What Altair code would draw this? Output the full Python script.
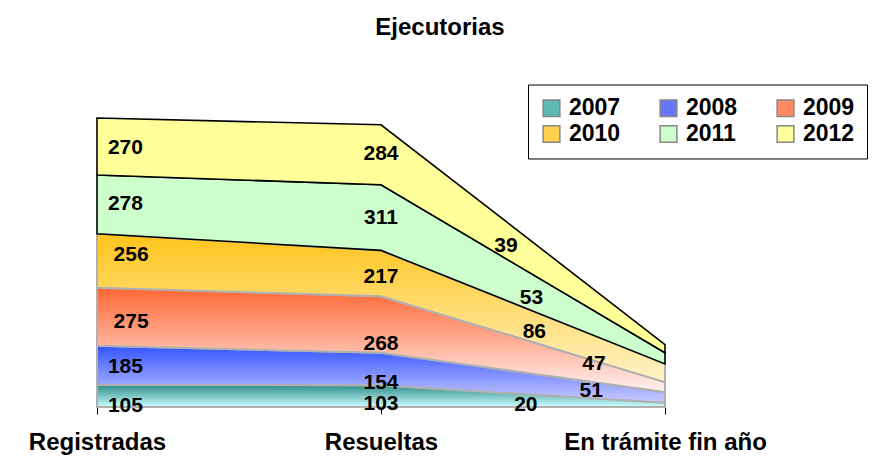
import altair as alt
import pandas as pd

categories = ["Registradas", "Resueltas", "En trámite fin año"]
years = ["2007", "2008", "2009", "2010", "2011", "2012"]
v2007 = [105, 103, 20]
v2008 = [185, 154, 51]
v2009 = [275, 268, 47]
v2010 = [256, 217, 86]
v2011 = [278, 311, 53]
v2012 = [270, 284, 39]
series = [v2007, v2008, v2009, v2010, v2011, v2012]

# styles
grad_top = ["#2e8b88", "#3355ff", "#ff6633", "#ffc41a", "#ccffcc", "#ffff99"]
grad_bot = ["#ccffff", "#ccccff", "#fff2f2", "#fff3c8", "#ccffcc", "#ffff99"]
legend_cols = ["#5fb8b2", "#6677ff", "#ff8a66", "#ffd24d", "#ccffcc", "#ffff99"]
strokes = ["#b0b0b0", "#b0b0b0", "#b0b0b0", "#b0b0b0", "#000000", "#000000"]
# label x positions (in category units) for each series: [cat0, cat1, cat2]
label_pos = [
    [0.10, 1.0, 1.51],
    [0.10, 1.0, 1.74],
    [0.12, 1.0, 1.75],
    [0.12, 1.0, 1.54],
    [0.10, 1.0, 1.53],
    [0.10, 1.0, 1.44],
]
# label vertical nudges in pixels (positive = down)
label_dy = [
    [10, 8, 4],
    [1, 14, 1],
    [4, 20, -7],
    [-7, 4, 5],
    [-2, 0, 6],
    [1, -1, 6],
]

W, H = 568, 295.5
YMAX = 1400
px_per_unit = H / YMAX

# stacking
rows = []
base = [0, 0, 0]
stacks = []
for yr, vals in zip(years, series):
    lo = list(base)
    hi = [b + v for b, v in zip(base, vals)]
    stacks.append((lo, hi))
    for i in range(3):
        rows.append({"year": yr, "xi": i, "y0": lo[i], "y1": hi[i]})
    base = hi
df = pd.DataFrame(rows)


def interp(arr, x):
    i = min(int(x), 1)
    t = x - i
    return arr[i] + t * (arr[i + 1] - arr[i])


lab_rows = []
for s, (yr, vals) in enumerate(zip(years, series)):
    lo, hi = stacks[s]
    for i in range(3):
        x = label_pos[s][i]
        mid = (interp(lo, x) + interp(hi, x)) / 2 - label_dy[s][i] / px_per_unit
        lab_rows.append({"year": yr, "x": x, "y": mid, "text": str(vals[i])})
dl = pd.DataFrame(lab_rows)

label_expr = "['Registradas','Resueltas','En trámite fin año'][datum.value]"
xenc = alt.X(
    "xi:Q",
    scale=alt.Scale(domain=[0, 2], nice=False, zero=False),
    axis=alt.Axis(
        values=[0, 1, 2], labelExpr=label_expr, title=None, grid=False,
        domainColor="#000000", tickColor="#000000", tickSize=7,
        labelFontSize=24, labelFontWeight="bold", labelFont="Liberation Sans",
        labelColor="#000000", labelPadding=16, labelFlush=False, labelLimit=0,
    ),
)
yscale = alt.Scale(domain=[0, YMAX], nice=False)

layers = []
for s, yr in enumerate(years):
    grad = alt.Gradient(
        gradient="linear",
        stops=[alt.GradientStop(color=grad_top[s], offset=0),
               alt.GradientStop(color=grad_bot[s], offset=1)],
        x1=0, x2=0, y1=0, y2=1,
    )
    layers.append(
        alt.Chart(df[df.year == yr]).mark_area(
            fill=grad, stroke=strokes[s], strokeWidth=2 if s < 4 else 1.6
        ).encode(
            x=xenc,
            y=alt.Y("y1:Q", scale=yscale, axis=None),
            y2="y0:Q",
        )
    )

legend_layer = alt.Chart(df).mark_point(filled=True, opacity=0).encode(
    x=xenc,
    y=alt.Y("y1:Q", scale=yscale, axis=None),
    fill=alt.Fill(
        "year:N",
        scale=alt.Scale(domain=years, range=legend_cols),
        legend=alt.Legend(
            title=None, orient="none", legendX=431, legendY=-27,
            direction="horizontal", columns=3, symbolType="square",
            symbolSize=280, symbolOpacity=1, symbolStrokeColor="#888888",
            symbolStrokeWidth=1.5, labelFontSize=23, labelFontWeight="bold",
            labelFont="Liberation Sans", labelColor="#000000",
            fillColor="#ffffff", strokeColor="#000000", padding=12,
            columnPadding=36, rowPadding=2, symbolOffset=0, labelOffset=6,
        ),
    ),
)

labels = alt.Chart(dl).mark_text(
    fontSize=21, fontWeight="bold", font="Liberation Sans", color="#000000"
).encode(
    x=alt.X("x:Q", scale=alt.Scale(domain=[0, 2], nice=False, zero=False)),
    y=alt.Y("y:Q", scale=yscale, axis=None),
    text="text:N",
)

chart = alt.layer(*layers, legend_layer, labels).properties(
    width=W,
    height=H,
    autosize=alt.AutoSizeParams(type="none"),
    padding={"left": 89, "top": 103.5, "right": 212, "bottom": 52},
    title=alt.TitleParams(
        "Ejecutorias", fontSize=24, fontWeight="bold", font="Liberation Sans",
        color="#000000", anchor="middle", dx=59, offset=44,
    ),
).configure_view(stroke=None)

chart.save("out.html", embed_options={"renderer": "svg", "actions": False})
